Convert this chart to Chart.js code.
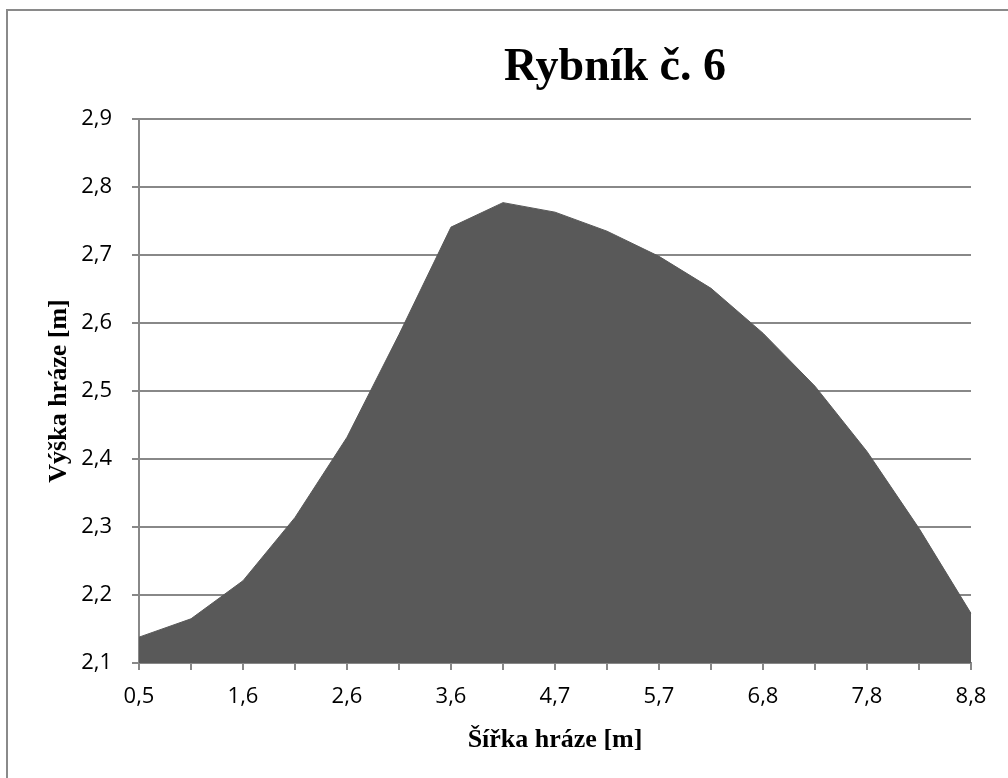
<!DOCTYPE html>
<html>
<head>
<meta charset="utf-8">
<title>Rybník č. 6</title>
<script src="https://cdn.jsdelivr.net/npm/chart.js@4/dist/chart.umd.min.js"></script>
<style>
    body { margin: 0; background: #fff; overflow: hidden; }
    #wrap { position: relative; width: 1008px; height: 778px; }
    #frame {
        position: absolute; left: 6px; top: 9px; width: 1100px; height: 900px;
        border-left: 2px solid #8a8a8a; border-top: 2px solid #8a8a8a;
        pointer-events: none;
    }
</style>
</head>
<body>
<div id="wrap">
    <canvas id="pondChart" width="1008" height="778"></canvas>
    <div id="frame"></div>
</div>
<script>
// chart data
const chartTitle = "Rybník č. 6";
const xTitle = "Šířka hráze [m]";
const yTitle = "Výška hráze [m]";

const widths = ["0,5", "1,1", "1,6", "2,1", "2,6", "3,1", "3,6", "4,2", "4,7",
                "5,2", "5,7", "6,3", "6,8", "7,3", "7,8", "8,3", "8,8"];
const heights = [2.138, 2.165, 2.221, 2.314, 2.432, 2.583, 2.741, 2.777, 2.763,
                 2.735, 2.698, 2.651, 2.585, 2.507, 2.411, 2.298, 2.173];

const yMin = 2.1;
const yMax = 2.9;
const yStep = 0.1;

const gridColor = "#888888";

// title is drawn a bit right of centre, like in the original
const titlePlugin = {
    id: "pondTitle",
    afterDraw(chart) {
        const ctx = chart.ctx;
        ctx.save();
        ctx.font = "bold 46px 'Liberation Serif', 'Times New Roman', serif";
        ctx.fillStyle = "#000";
        ctx.textAlign = "center";
        ctx.textBaseline = "alphabetic";
        ctx.fillText(chartTitle, 615, 80);
        ctx.restore();
    }
};

function loadChart() {
    const canvas = document.getElementById("pondChart");
    if (!canvas) {
        console.error("Canvas not found");
        return;
    }
    const ctx = canvas.getContext("2d");

    new Chart(ctx, {
        type: "line",
        data: {
            labels: widths,
            datasets: [{
                label: "Výška hráze",
                data: heights,
                fill: "start",
                backgroundColor: "#595959",
                borderColor: "#595959",
                borderWidth: 1,
                pointRadius: 0,
                tension: 0
            }]
        },
        options: {
            responsive: false,
            animation: false,
            layout: { padding: { top: 119, right: 37, bottom: 0, left: 0 } },
            plugins: {
                legend: { display: false },
                tooltip: { enabled: false }
            },
            scales: {
                x: {
                    offset: false,
                    afterFit: (scale) => { scale.height = 115; },
                    grid: {
                        drawOnChartArea: false,
                        drawTicks: true,
                        tickLength: 7,
                        color: gridColor,
                        lineWidth: 2
                    },
                    border: { color: gridColor, width: 2 },
                    ticks: {
                        autoSkip: false,
                        maxRotation: 0,
                        padding: 14,
                        color: "#000",
                        font: { family: "'Open Sans', sans-serif", size: 22 },
                        callback: function(value, index) {
                            return index % 2 === 0 ? widths[index] : "";
                        }
                    },
                    title: {
                        display: true,
                        text: xTitle,
                        color: "#000",
                        font: { family: "'Liberation Serif', serif", size: 26, weight: "bold" },
                        padding: { top: 0, bottom: 22 }
                    }
                },
                y: {
                    min: yMin,
                    max: yMax,
                    afterFit: (scale) => { scale.width = 139; },
                    grid: {
                        drawTicks: true,
                        tickLength: 7,
                        color: gridColor,
                        lineWidth: 2
                    },
                    border: { color: gridColor, width: 2 },
                    ticks: {
                        stepSize: yStep,
                        padding: 20,
                        color: "#000",
                        font: { family: "'Open Sans', sans-serif", size: 22 },
                        callback: (v) => v.toFixed(1).replace(".", ",")
                    },
                    title: {
                        display: true,
                        text: yTitle,
                        color: "#000",
                        font: { family: "'Liberation Serif', serif", size: 26, weight: "bold" },
                        padding: { top: 44, bottom: 0 }
                    }
                }
            }
        },
        plugins: [titlePlugin]
    });
}

window.onload = function() {
    loadChart();
};
</script>
</body>
</html>
